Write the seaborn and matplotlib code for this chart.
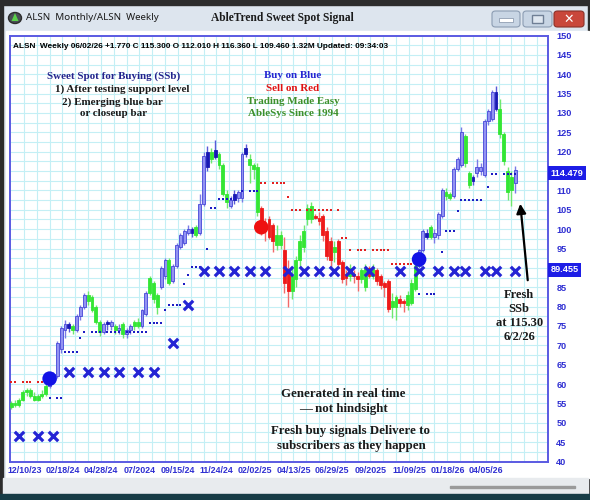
import numpy as np
import pandas as pd
import matplotlib.pyplot as plt
import seaborn as sns
from matplotlib.patches import Rectangle, FancyBboxPatch, Circle, Polygon
from matplotlib.transforms import blended_transform_factory

W, H = 590, 500

# weekly bars, 12/10/23 .. 06/02/26
opens = [54.0, 55.0, 54.5, 56.0, 58.0, 58.5, 57.0, 56.0, 57.0, 57.5,
         59.5, 61.5, 62.0, 69.0, 74.0, 75.5, 75.0, 74.0, 77.5, 80.0,
         83.0, 82.5, 80.0, 76.0, 73.5, 75.5, 76.0, 75.0, 74.0, 75.5,
         73.0, 74.0, 75.0, 76.0, 75.0, 78.0, 83.5, 86.0, 83.0, 85.0,
         88.0, 92.0, 86.5, 90.5, 95.5, 96.5, 99.0, 100.0, 100.5, 99.0,
         106.5, 116.0, 120.0, 118.5, 119.5, 116.5, 109.0, 106.0, 107.5, 108.0,
         108.0, 119.5, 118.0, 116.5, 116.0, 105.5, 101.0, 102.5, 101.0, 96.0,
         96.0, 94.5, 89.5, 84.0, 87.0, 92.0, 95.5, 102.5, 106.0, 103.5,
         103.0, 103.5, 99.5, 97.0, 94.0, 97.0, 91.5, 87.5, 88.0, 88.5,
         88.0, 87.0, 85.0, 90.0, 88.0, 89.5, 88.0, 86.0, 86.5, 80.0,
         80.0, 82.0, 81.5, 80.5, 81.0, 84.5, 90.5, 94.5, 98.0, 100.5,
         98.0, 98.5, 103.5, 109.5, 109.0, 108.5, 115.5, 116.5, 124.0, 114.5,
         112.5, 114.5, 116.0, 114.0, 128.0, 128.5, 135.5, 131.0, 124.5, 115.0,
         110.0, 112.01]
highs = [55.5, 56.0, 56.5, 58.5, 59.0, 59.0, 58.0, 57.5, 58.5, 60.0,
         62.0, 63.0, 71.0, 75.0, 76.5, 76.0, 75.5, 78.0, 80.5, 83.5,
         84.0, 83.0, 80.5, 76.5, 76.0, 76.5, 76.5, 75.5, 75.5, 76.0,
         74.5, 75.5, 76.5, 77.0, 79.5, 84.0, 88.0, 86.5, 83.5, 90.5,
         92.5, 92.5, 91.0, 96.5, 99.0, 100.0, 101.0, 100.5, 101.0, 109.0,
         120.0, 121.5, 121.0, 123.0, 120.0, 117.0, 110.0, 108.5, 110.0, 110.0,
         120.0, 122.0, 119.5, 117.0, 117.0, 106.0, 103.0, 103.5, 101.5, 101.0,
         99.5, 98.0, 92.0, 90.0, 93.0, 98.5, 101.0, 106.5, 107.0, 104.0,
         104.5, 104.0, 100.5, 98.0, 97.0, 97.5, 92.0, 89.5, 91.0, 89.5,
         89.0, 90.0, 91.0, 90.5, 91.0, 90.0, 88.5, 86.5, 87.0, 83.5,
         83.0, 83.0, 82.0, 84.0, 87.0, 91.0, 95.0, 100.0, 100.0, 101.0,
         100.0, 104.5, 110.5, 110.5, 109.5, 116.0, 118.5, 126.5, 124.5, 115.0,
         114.0, 118.0, 117.0, 128.5, 131.0, 136.0, 137.0, 133.5, 125.0, 116.0,
         115.0, 116.36]
lows = [53.5, 54.0, 54.0, 55.5, 57.0, 56.5, 55.5, 55.5, 56.5, 57.0,
        59.0, 61.0, 61.5, 68.0, 72.0, 73.5, 73.0, 73.5, 76.5, 79.5,
        80.5, 78.5, 75.5, 72.5, 73.0, 74.0, 74.0, 73.0, 73.0, 72.0,
        72.0, 73.0, 74.0, 74.5, 74.5, 77.5, 83.0, 81.0, 78.0, 84.5,
        87.0, 85.5, 86.0, 90.0, 95.0, 96.0, 98.5, 98.0, 98.0, 98.5,
        106.0, 115.0, 117.0, 118.0, 115.5, 108.5, 105.5, 105.5, 106.5, 107.0,
        107.0, 118.5, 112.0, 113.0, 103.5, 98.5, 97.0, 97.5, 94.0, 94.5,
        95.0, 83.5, 80.0, 82.0, 85.0, 90.0, 94.0, 101.0, 101.5, 102.5,
        101.0, 97.0, 92.0, 90.0, 91.5, 90.0, 86.0, 85.5, 86.5, 86.0,
        84.0, 86.0, 84.0, 87.5, 87.0, 85.5, 84.5, 82.5, 78.5, 77.0,
        76.5, 80.0, 78.5, 79.0, 80.5, 84.0, 90.0, 94.0, 97.5, 97.5,
        96.5, 97.5, 103.0, 107.5, 107.5, 108.0, 115.0, 116.0, 116.0, 110.5,
        111.5, 113.5, 114.0, 113.5, 127.0, 128.0, 130.5, 123.5, 116.5, 107.5,
        106.0, 109.46]
closes = [55.0, 54.5, 56.0, 58.0, 58.5, 57.0, 56.0, 57.0, 57.5, 59.5,
          61.5, 62.5, 70.5, 74.5, 75.5, 74.5, 74.0, 77.5, 80.0, 83.0,
          81.5, 79.0, 76.0, 73.5, 75.5, 76.0, 75.0, 74.0, 74.5, 73.0,
          74.0, 75.0, 76.0, 75.0, 79.0, 83.5, 87.5, 82.0, 80.0, 90.0,
          92.0, 86.0, 90.5, 96.0, 98.5, 99.5, 100.0, 99.0, 98.5, 106.5,
          119.0, 120.0, 118.0, 120.5, 116.5, 109.0, 107.0, 107.5, 109.0, 109.5,
          119.5, 121.0, 116.5, 115.5, 104.5, 100.0, 100.0, 98.0, 97.0, 98.5,
          98.5, 86.0, 84.0, 88.0, 92.0, 97.0, 99.5, 105.5, 102.5, 103.0,
          102.0, 98.5, 93.0, 92.0, 95.5, 91.0, 87.0, 88.5, 90.0, 88.0,
          87.0, 89.5, 90.0, 88.0, 90.0, 86.5, 85.5, 85.0, 79.5, 81.5,
          82.5, 81.0, 81.0, 83.0, 86.0, 90.5, 94.5, 99.5, 99.0, 98.0,
          99.0, 104.0, 110.0, 108.5, 108.0, 115.5, 118.0, 125.0, 117.0, 111.5,
          113.5, 116.0, 115.0, 128.0, 130.5, 135.5, 131.0, 124.5, 117.5, 109.5,
          113.5, 115.3]
# g = neutral green, b = blue (buy), d = dark blue, r = red (sell)
bar_kind = list("gggggggggg" "bbbbbdgbbb" "ggggbdbgbg" "bbggbbgggb"
                "bgbbbbbdgb" "bdgdgggbdb" "bdgggrrrrg" "grrggggggr"
                "rrrrgrrrgr" "rggrgrrrrg" "grrgggbbdg" "bbbggbbbgg"
                "dbbbbbdggg" "gb")

# support (blue) and resistance (red) dots: (first week, last week, level)
blue_dot_runs = [(10, 10, 56.3), (12, 13, 56.3), (14, 17, 68.2), (18, 18, 71.8),
                 (19, 19, 73.4), (21, 23, 73.4), (25, 28, 73.4), (30, 35, 73.4),
                 (36, 39, 75.8), (40, 40, 79.0), (41, 44, 80.4), (45, 45, 85.8),
                 (46, 46, 88.1), (47, 49, 90.3), (51, 51, 94.8), (52, 53, 105.5),
                 (54, 58, 107.8), (60, 60, 109.8), (62, 64, 109.8), (106, 106, 83.2),
                 (108, 110, 83.2), (112, 112, 94.2), (113, 115, 99.5),
                 (116, 116, 104.8), (117, 122, 107.5), (124, 124, 110.8),
                 (125, 126, 114.2), (128, 131, 114.2)]
red_dot_runs = [(0, 1, 60.5), (3, 5, 60.5), (7, 9, 60.5), (65, 66, 112.0),
                (68, 71, 112.0), (72, 72, 108.3), (73, 75, 105.0), (77, 83, 105.0),
                (85, 85, 105.0), (86, 87, 97.6), (88, 88, 94.7), (90, 92, 94.7),
                (94, 97, 94.7), (98, 98, 94.7), (99, 101, 91.1), (102, 104, 91.1)]

# blue X stops
x_weeks = [2, 7, 11, 15, 20, 24, 28, 33, 37, 42, 46, 50, 54, 58, 62, 66, 72, 76,
           80, 84, 88, 93, 101, 106, 111, 115, 118, 123, 126, 131]
x_levels = [46.7, 46.7, 46.7, 63.1, 63.1, 63.1, 63.1, 63.1, 63.1, 70.7, 80.4,
            89.2, 89.2, 89.2, 89.2, 89.2, 89.2, 89.2, 89.2, 89.2, 89.2, 89.2,
            89.2, 89.2, 89.2, 89.2, 89.2, 89.2, 89.2, 89.2]

# big signal circles
sig_weeks = [10, 65, 106]
sig_levels = [61.4, 100.5, 92.2]
sig_kind = ["buy", "sell", "buy"]

tick_labels = ["12/10/23", "02/18/24", "04/28/24", "07/2024", "09/15/24",
               "11/24/24", "02/02/25", "04/13/25", "06/29/25", "09/2025",
               "11/09/25", "01/18/26", "04/05/26"]

sns.set_style("white")
plt.rcParams["font.family"] = ["Liberation Sans", "DejaVu Sans"]

AXIS_BLUE = "#2f2fd2"
SERIF = ["Liberation Serif", "DejaVu Serif"]


def fx(x):
    return x / W


def fy(y):
    return 1 - y / H


fig = plt.figure(figsize=(5.9, 5.0), dpi=100)
fig.patch.set_facecolor("#dde5ee")

# window chrome
def prect(x0, y0, x1, y1, **kw):
    fig.add_artist(Rectangle((fx(x0), fy(y1)), fx(x1 - x0), (y1 - y0) / H,
                             transform=fig.transFigure, zorder=-5, **kw))

prect(0, 0, 590, 5, color="#2c2c2c")
prect(0, 0, 3, 500, color="#2c2c2c")
prect(588, 0, 590, 500, color="#2c2c2c")
prect(6, 31, 589, 478, color="white")
prect(3, 478, 588, 494, color="#e8ebee")
prect(450, 486, 575, 488, color="#9a9a9a")
prect(0, 494, 590, 500, color="#173c46")

# title bar buttons
for x0, x1, fc, ec in [(492, 520, "#c8d5e4", "#8b9cb2"), (523, 552, "#c8d5e4", "#8b9cb2"),
                       (554, 584, "#c9473b", "#8a3028")]:
    fig.add_artist(FancyBboxPatch((fx(x0), fy(27)), fx(x1 - x0), 16 / H,
                                  boxstyle="round,pad=0,rounding_size=0.006",
                                  transform=fig.transFigure, fc=fc, ec=ec, lw=0.8, zorder=5))
fig.add_artist(Rectangle((fx(499), fy(21.5)), fx(14), 3 / H, transform=fig.transFigure,
                         fc="white", ec="#7f8fa5", lw=0.5, zorder=6))
fig.add_artist(Rectangle((fx(532), fy(23)), fx(11), 8 / H, transform=fig.transFigure,
                         fc="#dfe7f0", ec="#6f7f95", lw=1, zorder=6))
fig.text(fx(569), fy(19), "✕", color="white", fontsize=9, fontweight="bold",
         ha="center", va="center", family=["DejaVu Sans"], zorder=8)

# app icon
fig.add_artist(Circle((fx(15), fy(18)), 6.5 / W, transform=fig.transFigure,
                      fc="#4a4f55", ec="#2c2c2c", zorder=5))
fig.add_artist(Polygon([(fx(11.5), fy(21)), (fx(18.5), fy(21)), (fx(15), fy(13))],
                       transform=fig.transFigure, fc="#5bd04a", ec="none", zorder=6))

fig.text(fx(26), fy(18), "ALSN  Monthly/ALSN  Weekly", fontsize=7.0, color="#1a1a1a",
         va="center", ha="left", family=["Noto Sans", "DejaVu Sans"])
fig.text(fx(282), fy(18), "AbleTrend Sweet Spot Signal", fontsize=8.3, color="#1a1a1a",
         fontweight="bold", va="center", ha="center", family=SERIF)

# main chart axes
ax = fig.add_axes([fx(10), fy(461.5), fx(538), 426 / H])
ax.set_facecolor("white")
ax.set_xlim(-0.3, 139.5)
ax.set_ylim(40, 150)

for yv in np.arange(42.5, 150, 2.5):
    ax.axhline(yv, color="#c4eff5", lw=0.8, zorder=0)
for xv in np.arange(10 / 3, 139.5, 10 / 3):
    ax.axvline(xv, color="#c4eff5", lw=0.8, zorder=0)

df = pd.DataFrame({"week": np.arange(len(closes)), "open": opens, "high": highs,
                   "low": lows, "close": closes, "kind": bar_kind})
df["bottom"] = df[["open", "close"]].min(axis=1)
df["body"] = (df["open"] - df["close"]).abs().clip(lower=0.35)

styles = {"g": ("#34e634", "#34e634", "#6fe86f"),
          "b": ("#9393f2", "#4646d8", "#7a7ae6"),
          "d": ("#1818b4", "#1818b4", "#5a5ad8"),
          "r": ("#ee1a1a", "#ee1a1a", "#f26a6a")}
for kind, grp in df.groupby("kind"):
    fc, ec, wc = styles[kind]
    ax.vlines(grp["week"], grp["low"], grp["high"], color=wc, lw=1, zorder=3)
    ax.bar(grp["week"], grp["body"], bottom=grp["bottom"], width=0.75,
           color=fc, edgecolor=ec, linewidth=0.6, zorder=4)

def expand(runs):
    wk, lv = [], []
    for a, b, level in runs:
        for w in range(a, b + 1):
            wk.append(w)
            lv.append(level)
    return pd.DataFrame({"week": wk, "level": lv})

sns.scatterplot(data=expand(blue_dot_runs), x="week", y="level", marker="s", s=3.2,
                color="#1c1cc4", linewidth=0, ax=ax, zorder=5)
sns.scatterplot(data=expand(red_dot_runs), x="week", y="level", marker="s", s=3.2,
                color="#e42020", linewidth=0, ax=ax, zorder=5)
sns.scatterplot(x=x_weeks, y=x_levels, marker="x", s=46, color="#2424d4",
                linewidth=2.3, ax=ax, zorder=6)
sig = pd.DataFrame({"week": sig_weeks, "level": sig_levels, "kind": sig_kind})
sns.scatterplot(data=sig, x="week", y="level", hue="kind", s=110, linewidth=0,
                palette={"buy": "#1212e6", "sell": "#ee1010"}, legend=False,
                ax=ax, zorder=7)
ax.set_xlabel("")
ax.set_ylabel("")

for sp in ax.spines.values():
    sp.set_color("#5a5ae2")
    sp.set_linewidth(1.4)

# the 115 and 90 labels sit under the price boxes
ax.yaxis.tick_right()
ax.set_yticks(np.arange(40, 151, 5))
ax.set_yticklabels(["" if v in (90, 115) else str(v) for v in range(40, 151, 5)])
ax.tick_params(axis="y", length=0, pad=6, labelsize=6.6, labelcolor=AXIS_BLUE)
for lab in ax.get_yticklabels():
    lab.set_fontweight("bold")
    lab.set_horizontalalignment("left")

ax.set_xticks(np.arange(0, 131, 10))
ax.set_xticklabels([])
ax.set_xticks(np.arange(len(tick_labels)) * 10 + 3.4, minor=True)
ax.set_xticklabels(tick_labels, minor=True, fontweight="bold")
ax.tick_params(axis="x", which="major", length=4, width=1, color=AXIS_BLUE, direction="out")
ax.tick_params(axis="x", which="minor", length=0, pad=3.5, labelsize=6.4, labelcolor=AXIS_BLUE)

yt = blended_transform_factory(ax.transAxes, ax.transData)
for level, label in [(114.479, "114.479"), (89.455, "89.455")]:
    ax.text(1.005, level, label, transform=yt, ha="left", va="center", color="white",
            fontsize=6.6, fontweight="bold", zorder=10, clip_on=False,
            bbox=dict(boxstyle="square,pad=0.25", fc="#1d1de6", ec="none"))

# header line and notes
fig.text(fx(13), fy(46),
         "ALSN  Weekly 06/02/26 +1.770 C 115.300 O 112.010 H 116.360 L 109.460 1.32M Updated: 09:34:03",
         fontsize=5.95, fontweight="bold", color="black", ha="left", va="center")

def note(x, y, s, color="#1a1a1a", size=7.9):
    fig.text(fx(x), fy(y), s, fontsize=size, fontweight="bold", color=color,
             ha="center", va="center", family=SERIF)

note(114, 76, "Sweet Spot for Buying (SSb)", "#22228c")
note(122, 89, "1) After testing support level")
note(112, 102, "2) Emerging blue bar")
note(113, 114, "or closeup bar")
note(293, 76, "Buy on Blue", "#2626d2")
note(293, 89, "Sell on Red", "#e01212")
note(293, 102, "Trading Made Easy", "#3d8f2a")
note(293, 114, "AbleSys Since 1994", "#3d8f2a")

note(343, 394, "Generated in real time", size=9.3)
note(343, 409, "— not hindsight", size=9.3)
note(351, 431, "Fresh buy signals Delivere to", size=9.3)
note(351, 446, "subscribers as they happen", size=9.3)

note(519, 295, "Fresh", size=9.0)
note(519, 309, "SSb", size=9.0)
note(520, 323, "at 115.30", size=9.0)
note(520, 337, "6/2/26", size=9.0)

ax.annotate("", xy=(fx(520), fy(201)), xytext=(fx(528), fy(283)),
            xycoords="figure fraction", textcoords="figure fraction",
            arrowprops=dict(arrowstyle="-|>", color="black", lw=1.6, mutation_scale=14),
            annotation_clip=False, zorder=9)

fig.savefig("out.png", dpi=100, facecolor=fig.get_facecolor())
